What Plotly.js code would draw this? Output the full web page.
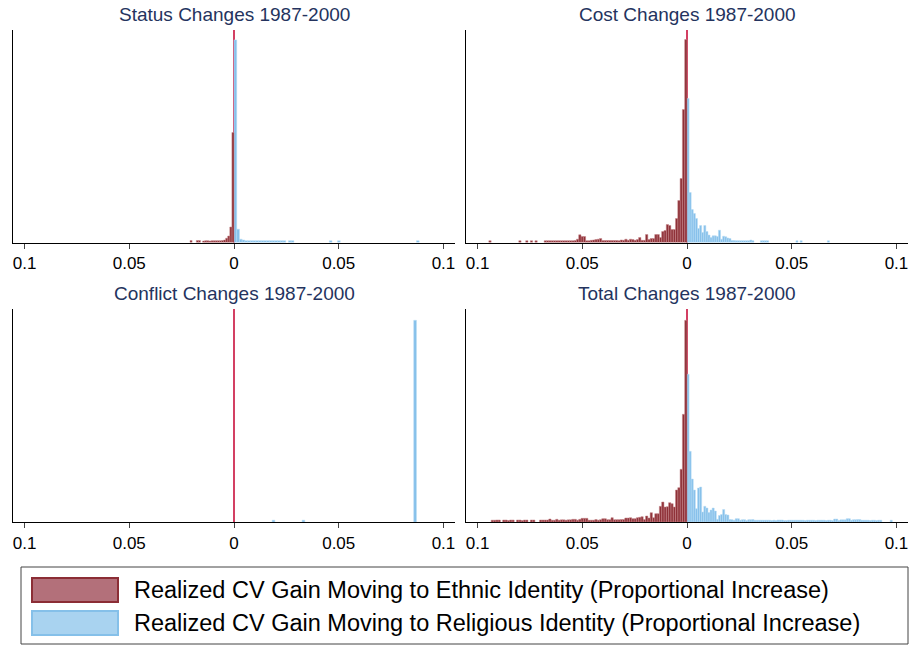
<!DOCTYPE html>
<html>
<head>
<meta charset="utf-8">
<script src="https://cdn.plot.ly/plotly-3.0.1.min.js"></script>
<style>html,body{margin:0;padding:0;background:#fff;}#chart{width:912px;height:646px;}</style>
</head>
<body>
<div id="chart"></div>
<script>
// ---------- DATA (histogram bar heights, bins counted outward from 0) ----------
var panelTitles = ["Status Changes 1987-2000", "Cost Changes 1987-2000", "Conflict Changes 1987-2000", "Total Changes 1987-2000"];
var tickValues = [-0.1, -0.05, 0, 0.05, 0.1];
var tickLabels = ["0.1", "0.05", "0", "0.05", "0.1"];
var legendLabels = ["Realized CV Gain Moving to Ethnic Identity (Proportional Increase)",
                    "Realized CV Gain Moving to Religious Identity (Proportional Increase)"];

// bin widths
var statusEthnicBin = 0.001, statusReligiousBin = 0.0013;
var costEthnicBin = 0.0011, costReligiousBin = 0.001;
var conflictEthnicBin = 0.001, conflictReligiousBin = 0.0013;
var totalEthnicBin = 0.0011, totalReligiousBin = 0.001;

// Ethnic = negative side, Religious = positive side; first value = bin nearest 0
var statusEthnic = [110, 15.5, 6.5, 4.3, 2.5, 2, 1.8, 1.8, 1.8, 1.8, 1.8, 1.5, 1.8, 1.8, 1.5, 0, 2, 2, 0, 0, 2];
var statusReligious = [202.6, 13.3, 3.3, 2.5, 1.8, 1.8, 1.8, 1.8, 1.8, 1.8, 1.8, 1.8, 1.8, 1.8, 1.8, 1.8, 1.8, 1.8, 1.8, 0,
  1.8, 1.8, 0, 0, 0, 0, 0, 0, 0, 0, 0, 0, 0, 0, 0, 1.8, 0, 0, 1.8, 0,
  0, 0, 0, 0, 0, 0, 0, 0, 0, 0, 0, 0, 0, 0, 0, 0, 0, 0, 0, 0,
  0, 0, 0, 0, 0, 0, 0, 1.8];

var costEthnic = [203, 133, 64, 42, 24, 13, 13, 17, 18, 12,
  11, 5, 8, 8, 4, 4, 3, 8, 2.2, 2.2,
  5, 3, 2.2, 3, 3.3, 2.2, 3.3, 2.2, 2.5, 1.8,
  2, 2, 2, 2, 2, 2, 2, 4, 3.3, 3,
  2.5, 2.2, 1.8, 1.8, 6, 6, 7.7, 3.3, 2, 1.8,
  1.8, 1.8, 1.8, 1.8, 1.8, 1.8, 1.8, 1.8, 1.8, 1.8,
  1.8, 1.8, 0, 0, 0, 1.8, 0, 1.8, 0, 1.8,
  0, 0, 1.8, 0, 0, 0, 0, 0, 0, 0,
  0, 0, 0, 0, 0, 1.8];
var costReligious = [144, 50, 33, 29, 24, 14, 17, 10, 17, 11,
  7.5, 5, 6.7, 6.7, 6, 12.3, 3.3, 6.3, 5.7, 4.5,
  4, 2, 2, 1.8, 1.8, 1.8, 1.8, 1.8, 1.8, 1.8,
  2.5, 1.8, 0, 0, 0, 1.8, 1.8, 1.8, 1.8, 0,
  0, 0, 0, 0, 0, 0, 0, 0, 0, 0,
  0, 0, 1.8, 0, 1.8, 0, 0, 0, 0, 0,
  0, 0, 0, 0, 0, 0, 0, 1.8];

var conflictEthnic = [];
var conflictReligious = [0, 0, 0, 0, 0, 0, 0, 0, 0, 0, 0, 0, 0, 0, 1.8, 0, 0, 0, 0, 0,
  0, 0, 0, 0, 0, 1.8, 0, 0, 0, 0, 0, 0, 0, 0, 0, 0, 0, 0, 0, 0,
  0, 0, 0, 0, 0, 0, 0, 0, 0, 0, 0, 0, 0, 0, 0, 0, 0, 0, 0, 0,
  0, 0, 0, 0, 0, 0, 201.7];

var totalEthnic = [201.7, 107.7, 52.7, 34.3, 32, 15, 18.3, 19.3, 15.3, 15,
  20, 15.7, 8.3, 8.3, 4.3, 9.3, 4, 6, 2.5, 5.3,
  4.7, 4.3, 3.3, 3.3, 4.3, 4, 4, 2.5, 2.5, 2.3,
  2.3, 2.3, 4.3, 2.3, 2.3, 3.3, 3.3, 2.3, 1.8, 2.5,
  1.8, 1.8, 1.8, 3.7, 3.7, 3.7, 2.7, 1.8, 2.7, 2.7,
  2.2, 2.2, 1.8, 2.2, 2.2, 1.8, 2.7, 1.8, 1.8, 3,
  2, 2, 2, 2, 0, 0, 2, 2, 0, 2,
  2, 1.5, 2, 2, 0, 2, 2, 1.5, 2, 2,
  0, 2, 2, 1.8, 1.8];
var totalReligious = [147.7, 70.7, 43, 32, 13.3, 34, 35, 10, 15.7, 14,
  9.5, 12, 14, 11, 2.7, 6.5, 7.5, 12.5, 7.5, 7,
  2.5, 2.3, 1.8, 3.3, 3.3, 1.8, 2.3, 2.3, 1.5, 2.3,
  2.3, 2.5, 1.8, 1.8, 1.8, 1.8, 1.8, 1.8, 1.8, 1.8,
  1.5, 1.8, 1.5, 2, 2, 2, 1.5, 1.5, 1.8, 1.8,
  1.8, 1.8, 1.8, 1.8, 1.8, 1.8, 1.5, 1.8, 1.8, 1.8,
  1.8, 1.5, 1.8, 1.8, 1.8, 1.8, 1.5, 1.8, 1.8, 1.5,
  3, 3, 1.5, 2.2, 2.2, 2.2, 3.3, 3.3, 1.8, 2.3,
  2.3, 2.5, 2.5, 1.8, 1.8, 1.8, 1.8, 1.5, 1.8, 1.8,
  1.5, 1.8, 1.8, 0, 0, 0, 0, 1.8];

// ---------- STYLE ----------
var ethnicFill = "#8e3138", ethnicEdge = "#c7868b";
var religiousFill = "#86c0ea", religiousEdge = "#b9dcf4";
var zeroLineColor = "#c8103c";
var titleColor = "#24335e";
var FONT = "Arial, 'Liberation Sans', sans-serif";
var W = 912, H = 646;

var panels = [
  {eth: statusEthnic, ethW: statusEthnicBin, rel: statusReligious, relW: statusReligiousBin, xd: [13, 455], yd: [30, 242.5], ymax: 212.5},
  {eth: costEthnic, ethW: costEthnicBin, rel: costReligious, relW: costReligiousBin, xd: [466, 908], yd: [30, 242.5], ymax: 212.5},
  {eth: conflictEthnic, ethW: conflictEthnicBin, rel: conflictReligious, relW: conflictReligiousBin, xd: [13, 455], yd: [309, 522], ymax: 213},
  {eth: totalEthnic, ethW: totalEthnicBin, rel: totalReligious, relW: totalReligiousBin, xd: [466, 908], yd: [309, 522], ymax: 213}
];

function barsFrom(heights, w, sign) {
  var xs = [], ys = [];
  heights.forEach(function (h, i) {
    if (h > 0) { xs.push(sign * (i + 0.5) * w); ys.push(h); }
  });
  return {x: xs, y: ys};
}

var data = [], shapes = [], annotations = [];
var layout = {
  width: W, height: H,
  margin: {l: 0, r: 0, t: 0, b: 0},
  paper_bgcolor: "#fff", plot_bgcolor: "#fff",
  showlegend: false, barmode: "overlay",
  font: {family: FONT, color: "#000"}
};

panels.forEach(function (p, i) {
  var n = i + 1;
  var xk = n === 1 ? "x" : "x" + n, yk = n === 1 ? "y" : "y" + n;
  var rel = barsFrom(p.rel, p.relW, 1);
  var eth = barsFrom(p.eth, p.ethW, -1);
  data.push({type: "bar", x: rel.x, y: rel.y, width: p.relW, xaxis: xk, yaxis: yk,
    marker: {color: religiousFill, line: {color: religiousEdge, width: 0.5}}, hoverinfo: "skip"});
  data.push({type: "bar", x: eth.x, y: eth.y, width: p.ethW, xaxis: xk, yaxis: yk,
    marker: {color: ethnicFill, line: {color: ethnicEdge, width: 0.5}}, hoverinfo: "skip"});

  var xdom = [p.xd[0] / W, p.xd[1] / W];
  var ydom = [1 - p.yd[1] / H, 1 - p.yd[0] / H];
  layout[n === 1 ? "xaxis" : "xaxis" + n] = {
    domain: xdom, anchor: yk, range: [-0.1055, 0.1055],
    tickmode: "array", tickvals: tickValues, ticktext: tickLabels,
    ticks: "outside", ticklen: 5, tickwidth: 1, tickcolor: "#444",
    showline: true, linecolor: "#000", linewidth: 1.2,
    showgrid: false, zeroline: false, fixedrange: true,
    tickfont: {family: FONT, size: 17, color: "#000"}
  };
  layout[n === 1 ? "yaxis" : "yaxis" + n] = {
    domain: ydom, anchor: xk, range: [0, p.ymax],
    showline: true, linecolor: "#000", linewidth: 1.2,
    showticklabels: false, ticks: "", showgrid: false, zeroline: false, fixedrange: true
  };
  shapes.push({type: "line", xref: xk, yref: yk + " domain", x0: 0, x1: 0, y0: 0, y1: 1,
    line: {color: zeroLineColor, width: 1.6}, layer: "below"});
  annotations.push({xref: "paper", yref: "paper", x: (xdom[0] + xdom[1]) / 2,
    y: 1 - (p.yd[0] - 16) / H, xanchor: "center", yanchor: "middle", showarrow: false,
    text: panelTitles[i], font: {family: FONT, size: 19, color: titleColor}});
});

// Legend box (pixel positions converted to paper coords)
function px(x) { return x / W; }
function py(y) { return 1 - y / H; }
shapes.push({type: "rect", xref: "paper", yref: "paper", x0: px(21), x1: px(908), y0: py(644), y1: py(567),
  line: {color: "#444", width: 1}, fillcolor: "rgba(0,0,0,0)", layer: "above"});
shapes.push({type: "rect", xref: "paper", yref: "paper", x0: px(32), x1: px(118), y0: py(602), y1: py(578),
  line: {color: "#8b2d35", width: 2}, fillcolor: "#b3707a", layer: "above"});
shapes.push({type: "rect", xref: "paper", yref: "paper", x0: px(32), x1: px(118), y0: py(635), y1: py(611),
  line: {color: "#85c0e9", width: 2}, fillcolor: "#a9d3f0", layer: "above"});
annotations.push({xref: "paper", yref: "paper", x: px(132), y: py(589.5), xanchor: "left", yanchor: "middle",
  showarrow: false, text: legendLabels[0], font: {family: FONT, size: 23.5, color: "#000"}});
annotations.push({xref: "paper", yref: "paper", x: px(132), y: py(623), xanchor: "left", yanchor: "middle",
  showarrow: false, text: legendLabels[1], font: {family: FONT, size: 23.5, color: "#000"}});

layout.shapes = shapes;
layout.annotations = annotations;

Plotly.newPlot("chart", data, layout, {staticPlot: true, displayModeBar: false});
</script>
</body>
</html>
